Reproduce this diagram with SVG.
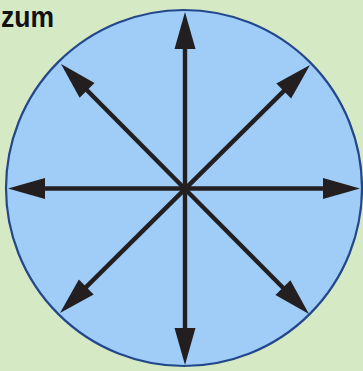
<svg xmlns="http://www.w3.org/2000/svg" width="363" height="371" viewBox="0 0 363 371">
<style>
.bg{fill:#d5eac4}
.disk{fill:#a0cdf8;stroke:#24478c;stroke-width:2.2}
.arr{stroke:#231f20;stroke-width:4.4;fill:none;marker-start:url(#ah);marker-end:url(#ah)}
.title{font-family:"Liberation Sans",Arial,sans-serif;font-weight:bold;font-size:29px;fill:#111}
</style>
<defs>
<marker id="ah" markerUnits="userSpaceOnUse" orient="auto-start-reverse" refX="0" refY="0" markerWidth="40" markerHeight="24" overflow="visible">
<path d="M20,0 L-17,-10.5 L-17,10.5 Z" fill="#231f20"/>
</marker>
</defs>
<rect class="bg" x="0" y="0" width="363" height="371"/>
<g id="disk"><circle class="disk" cx="184" cy="188" r="178"/></g>
<g id="title"><text class="title" x="1" y="27" textLength="53" lengthAdjust="spacingAndGlyphs">zum</text></g>
<g id="connectors">
<line class="arr" x1="185" y1="32" x2="185" y2="345"/>
<line class="arr" x1="28" y1="188.5" x2="340" y2="188.5"/>
<line class="arr" x1="75.1" y1="78.2" x2="294.9" y2="299.8"/>
<line class="arr" x1="295.8" y1="79.1" x2="74.2" y2="298.9"/>
</g>
</svg>
